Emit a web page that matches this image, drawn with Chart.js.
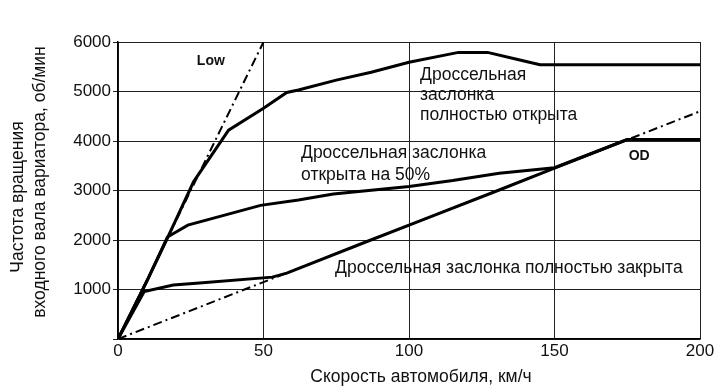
<!DOCTYPE html>
<html>
<head>
<meta charset="utf-8">
<script src="https://cdn.jsdelivr.net/npm/chart.js@4.4.0/dist/chart.umd.min.js"></script>
<style>
  html, body { margin: 0; padding: 0; background: #fff; }
  #wrap { width: 725px; height: 390px; }
</style>
</head>
<body>
<div id="wrap"><canvas id="chart"></canvas></div>
<script>
// скорость, км/ч  -> частота, об/мин
const speedFull = [0, 10, 17, 26, 38, 50, 58, 62, 75, 87, 100, 117, 127, 137, 145, 200];
const rpmFull = [0, 1180, 2040, 3180, 4220, 4660, 4980, 5030, 5230, 5390, 5590, 5790, 5790, 5650, 5540, 5540];

const speedHalf = [0, 10, 17, 24, 49, 62, 74, 100, 115, 131, 150, 175, 200];
const rpmHalf = [0, 1180, 2060, 2300, 2700, 2810, 2930, 3080, 3200, 3350, 3460, 4030, 4030];

const speedClosed = [0, 9, 19, 28, 53, 58, 86, 104, 131, 150, 175, 200];
const rpmClosed = [0, 960, 1090, 1130, 1250, 1330, 1980, 2390, 3010, 3450, 4030, 4030];

const speedLow = [0, 50];
const rpmLow = [0, 6000];

const speedOD = [0, 200];
const rpmOD = [0, 4600];

const xTicks = [0, 50, 100, 150, 200];
const yTicks = [1000, 2000, 3000, 4000, 5000, 6000];

const yTitle = ["Частота вращения", "входного вала вариатора, об/мин"];
const xTitle = "Скорость автомобиля, км/ч";
const labelFull = ["Дроссельная", "заслонка", "полностью открыта"];
const labelHalf = ["Дроссельная заслонка", "открыта на 50%"];
const labelClosed = "Дроссельная заслонка полностью закрыта";

const FONT = "'Liberation Sans', Arial, sans-serif";
const INK = "#111";

function pts(xs, ys) {
  return xs.map((x, i) => ({ x: x, y: ys[i] }));
}

const textPlugin = {
  id: "texts",
  afterDraw(chart) {
    const ctx = chart.ctx;
    const xs = chart.scales.x;
    const ys = chart.scales.y;
    const px = v => xs.getPixelForValue(v);
    const py = v => ys.getPixelForValue(v);
    ctx.save();
    ctx.fillStyle = INK;
    ctx.textBaseline = "middle";
    ctx.textAlign = "left";

    ctx.font = "17.5px " + FONT;
    labelFull.forEach((t, i) => ctx.fillText(t, px(103.8), py(5333 - i * 404)));
    labelHalf.forEach((t, i) => ctx.fillText(t, px(62.9), py(3758 - i * 445)));
    ctx.fillText(labelClosed, px(74.6), py(1434));

    ctx.font = "bold 14px " + FONT;
    ctx.fillText("Low", px(27.1), py(5616));
    ctx.fillText("OD", px(175.5), py(3700));

    // подписи осей
    ctx.font = "17.5px " + FONT;
    ctx.textAlign = "center";
    ctx.fillText(xTitle, 421, 377);

    ctx.save();
    ctx.translate(18, 197);
    ctx.rotate(-Math.PI / 2);
    ctx.fillText(yTitle[0], 0, 0);
    ctx.restore();
    ctx.save();
    ctx.translate(40, 182);
    ctx.rotate(-Math.PI / 2);
    ctx.fillText(yTitle[1], 0, 0);
    ctx.restore();

    ctx.restore();
  }
};

const solid = { borderColor: "#000", borderWidth: 3, pointRadius: 0, tension: 0, fill: false };
const dashed = { borderColor: "#000", borderWidth: 2, pointRadius: 0, tension: 0, fill: false, borderDash: [9, 4, 2, 4] };

// порядок: первые наборы рисуются поверх
new Chart(document.getElementById("chart"), {
  type: "line",
  data: {
    datasets: [
      Object.assign({ label: "full", data: pts(speedFull, rpmFull) }, solid),
      Object.assign({ label: "half", data: pts(speedHalf, rpmHalf) }, solid),
      Object.assign({ label: "closed", data: pts(speedClosed, rpmClosed) }, solid),
      Object.assign({ label: "Low", data: pts(speedLow, rpmLow) }, dashed),
      Object.assign({ label: "OD", data: pts(speedOD, rpmOD) }, dashed)
    ]
  },
  options: {
    responsive: true,
    maintainAspectRatio: false,
    animation: false,
    layout: { padding: { left: 0, right: 25, top: 42, bottom: 0 } },
    plugins: { legend: { display: false }, tooltip: { enabled: false } },
    scales: {
      x: {
        type: "linear",
        min: 0,
        max: 200,
        afterBuildTicks: s => { s.ticks = xTicks.map(v => ({ value: v })); },
        afterFit: s => { s.height = 51; },
        ticks: { color: INK, font: { family: FONT, size: 17 }, padding: 2 },
        grid: { color: "#222", lineWidth: 1, drawTicks: false },
        border: { color: "#000", width: 1.5 }
      },
      y: {
        min: 0,
        max: 6000,
        afterBuildTicks: s => { s.ticks = [0].concat(yTicks).map(v => ({ value: v })); },
        afterFit: s => { s.width = 118; },
        ticks: {
          color: INK,
          font: { family: FONT, size: 17 },
          padding: 2,
          callback: v => (v === 0 ? "" : v)
        },
        grid: { color: "#222", lineWidth: 1, tickLength: 5 },
        border: { color: "#000", width: 1.5 }
      }
    }
  },
  plugins: [textPlugin]
});
</script>
</body>
</html>
